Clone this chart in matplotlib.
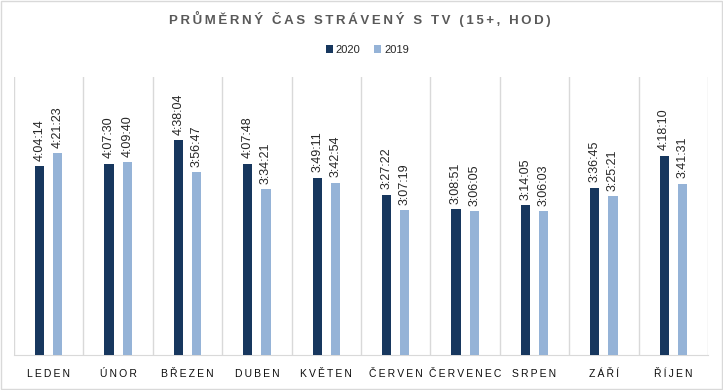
import matplotlib
matplotlib.use("Agg")
import matplotlib.pyplot as plt
from matplotlib.patches import Rectangle
import numpy as np

plt.rcParams['font.family'] = ['Liberation Sans', 'DejaVu Sans']

months = ["LEDEN", "ÚNOR", "BŘEZEN", "DUBEN", "KVĚTEN",
          "ČERVEN", "ČERVENEC", "SRPEN", "ZÁŘÍ", "ŘÍJEN"]
times_2020 = ["4:04:14", "4:07:30", "4:38:04", "4:07:48", "3:49:11",
              "3:27:22", "3:08:51", "3:14:05", "3:36:45", "4:18:10"]
times_2019 = ["4:21:23", "4:09:40", "3:56:47", "3:34:21", "3:42:54",
              "3:07:19", "3:06:05", "3:06:03", "3:25:21", "3:41:31"]

C2020 = '#17375E'
C2019 = '#95B3D7'
GRID = '#D9D9D9'


def to_hours(s):
    h, m, sec = (int(p) for p in s.split(':'))
    return h + m / 60 + sec / 3600


def spaced(s, sep='\u2009'):
    return sep.join(s)


v20 = np.array([to_hours(t) for t in times_2020])
v19 = np.array([to_hours(t) for t in times_2019])
x = np.arange(len(months))

fig = plt.figure(figsize=(7.23, 3.9), dpi=100, facecolor='white')
ax = fig.add_axes([0.0194, 0.0897, 0.9598, 0.7128])

off, w = 0.131, 0.134
b1 = ax.bar(x - off, v20, w, color=C2020, label='2020', zorder=3)
b2 = ax.bar(x + off, v19, w, color=C2019, label='2019', zorder=3)

for bars, labels in [(b1, times_2020), (b2, times_2019)]:
    for r, lab in zip(bars, labels):
        ax.annotate(lab, (r.get_x() + r.get_width() / 2, r.get_height()),
                    xytext=(0, 4), textcoords='offset points',
                    rotation=90, ha='center', va='bottom',
                    fontsize=9, color='#262626')

ax.set_xlim(-0.5, len(months) - 0.5)
ax.set_ylim(0, 6)
for k in range(len(months) + 1):
    ax.axvline(k - 0.5, color=GRID, lw=1, zorder=1)

for s in ['top', 'right', 'left']:
    ax.spines[s].set_visible(False)
ax.spines['bottom'].set_color(GRID)
ax.set_yticks([])
ax.set_xticks(x)
ax.set_xticklabels([spaced(m) for m in months], fontsize=7.5, color='#0d0d0d')
ax.tick_params(axis='x', length=0, pad=10)

fig.text(0.497, 0.951, spaced("PRŮMĚRNÝ ČAS STRÁVENÝ S TV (15+, HOD)"),
         ha='center', va='center', fontsize=9.5, fontweight='bold',
         color='#595959')

fig.legend(handles=[b1, b2], loc='center', bbox_to_anchor=(0.508, 0.872),
           ncol=2, frameon=False, fontsize=8, handlelength=0.6,
           handleheight=0.6, handletextpad=0.3, columnspacing=1.2,
           labelcolor='#262626')

fig.patches.append(Rectangle((0.0007, 0.0013), 0.9986, 0.9974,
                             transform=fig.transFigure, fill=False,
                             edgecolor=GRID, lw=1))

fig.savefig('out.png', dpi=100, facecolor='white')
